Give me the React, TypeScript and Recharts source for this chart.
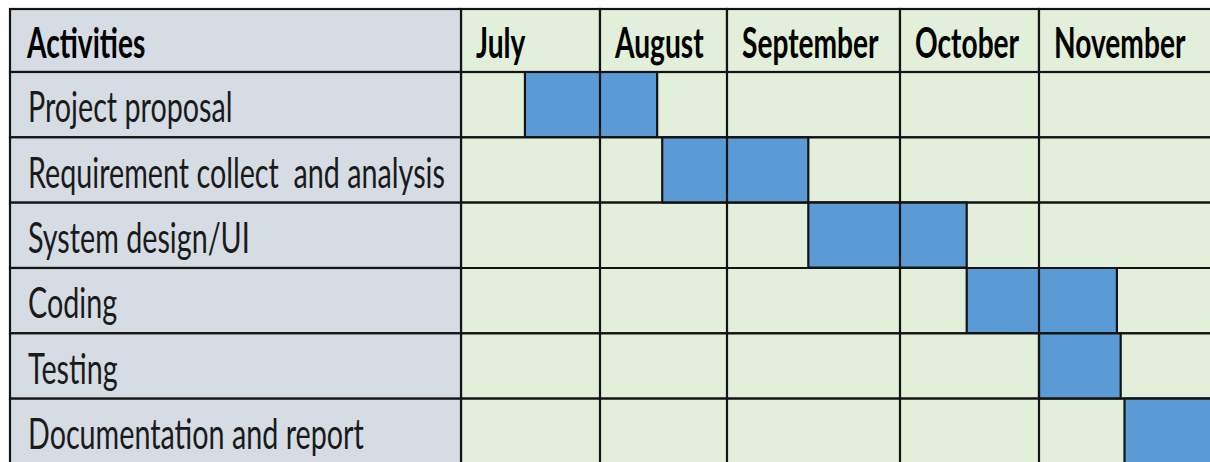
import React from "react";
import { BarChart, Bar, XAxis, YAxis, ReferenceArea, ReferenceLine } from "recharts";

// ---- data ----
const activities = [
  "Project proposal",
  "Requirement collect  and analysis",
  "System design/UI",
  "Coding",
  "Testing",
  "Documentation and report",
];
const months = ["July", "August", "September", "October", "November"];
// relative widths of the month columns in the timeline table
const monthWeights = [139, 127, 173, 139, 190];
// start / end of each activity, in months from the start of July (0 = 1 July, 1 = 1 August ...)
const startMonths = [0.46, 1.49, 2.47, 3.48, 4.0, 4.45];
const endMonths = [1.45, 2.47, 3.48, 4.41, 4.43, 5.0];
const headerLabel = "Activities";

// ---- derived ----
const monthStarts = monthWeights.map((_, i) => monthWeights.slice(0, i).reduce((a, b) => a + b, 0));
const total = monthWeights.reduce((a, b) => a + b, 0);
const toUnits = (m: number) => {
  const i = Math.min(Math.floor(m), months.length - 1);
  return monthStarts[i] + (m - i) * monthWeights[i];
};
const data = activities.map((name, i) => ({
  name,
  span: [toUnits(startMonths[i]), toUnits(endMonths[i])],
}));

// ---- layout / style ----
const W = 1240;
const H = 470;
const M = { top: 9, right: 11, bottom: 6, left: 10 };
const YW = 451;
const XH = 63;
const plotW = W - M.left - M.right - YW;
const plotH = H - M.top - M.bottom - XH;
const rowH = plotH / activities.length;
const pxPerUnit = plotW / total;

const GREEN = "#E2EFDA";
const GRAY = "#D6DCE4";
const BLUE = "#5B9BD5";
const LINE = "#141414";
const FONT = "Lato, 'Liberation Sans', Arial, sans-serif";
const FS = 43;
const SX = 0.668;
const FSB = 42;
const SXB = 0.67;

const MonthTick = (props: any) => {
  const { x, payload } = props;
  let index = props.index;
  const found = monthStarts.indexOf(payload?.value);
  if (found >= 0) index = found;
  const w = monthWeights[index] * pxPerUnit;
  return (
    <g>
      <rect x={x} y={M.top} width={w} height={XH} fill={GREEN} stroke={LINE} strokeWidth={2.2} />
      <text
        transform={`translate(${x + 15},${M.top + 49}) scale(${SXB},1)`}
        fontFamily={FONT}
        fontWeight={700}
        fontSize={FSB}
        fill="#000"
      >
        {months[index]}
      </text>
    </g>
  );
};

const ActivityTick = (props: any) => {
  const { y, payload } = props;
  let index = props.index;
  const found = activities.indexOf(payload?.value);
  if (found >= 0) index = found;
  return (
    <g>
      {index === 0 && (
        <g>
          <rect x={M.left} y={M.top} width={YW} height={XH} fill={GRAY} stroke={LINE} strokeWidth={2.2} />
          <text
            transform={`translate(${M.left + 17},${M.top + 49}) scale(${SXB},1)`}
            fontFamily={FONT}
            fontWeight={700}
            fontSize={FSB}
            fill="#000"
          >
            {headerLabel}
          </text>
        </g>
      )}
      <rect x={M.left} y={y - rowH / 2} width={YW} height={rowH} fill={GRAY} stroke={LINE} strokeWidth={2.2} />
      <text
        transform={`translate(${M.left + 18},${y + 17.5}) scale(${SX},1)`}
        fontFamily={FONT}
        fontSize={FS}
        fill="#1a1a1a"
        xmlSpace="preserve"
        style={{ whiteSpace: "pre" }}
      >
        {activities[index]}
      </text>
    </g>
  );
};

export default function App() {
  return (
    <div
      style={{
        position: "absolute",
        left: 0,
        top: 0,
        width: 1210,
        height: 462,
        overflow: "hidden",
        background: "#fff",
      }}
    >
      <BarChart
        width={W}
        height={H}
        data={data}
        layout="vertical"
        margin={M}
        barCategoryGap={0}
        barGap={0}
      >
        {activities.map((a) => (
          <ReferenceArea
            key={a}
            y1={a}
            y2={a}
            x1={0}
            x2={total}
            fill={GREEN}
            fillOpacity={1}
            stroke={LINE}
            strokeWidth={2.2}
            ifOverflow="visible"
          />
        ))}
        <Bar dataKey="span" fill={BLUE} stroke={LINE} strokeWidth={2.2} isAnimationActive={false} />
        {monthStarts.slice(1).map((v) => (
          <ReferenceLine key={v} x={v} stroke={LINE} strokeWidth={2.2} />
        ))}
        <XAxis
          type="number"
          orientation="top"
          domain={[0, total]}
          ticks={monthStarts}
          interval={0}
          height={XH}
          axisLine={false}
          tickLine={false}
          tick={<MonthTick />}
          allowDataOverflow
        />
        <YAxis
          type="category"
          dataKey="name"
          width={YW}
          interval={0}
          axisLine={false}
          tickLine={false}
          tick={<ActivityTick />}
        />
      </BarChart>
    </div>
  );
}
